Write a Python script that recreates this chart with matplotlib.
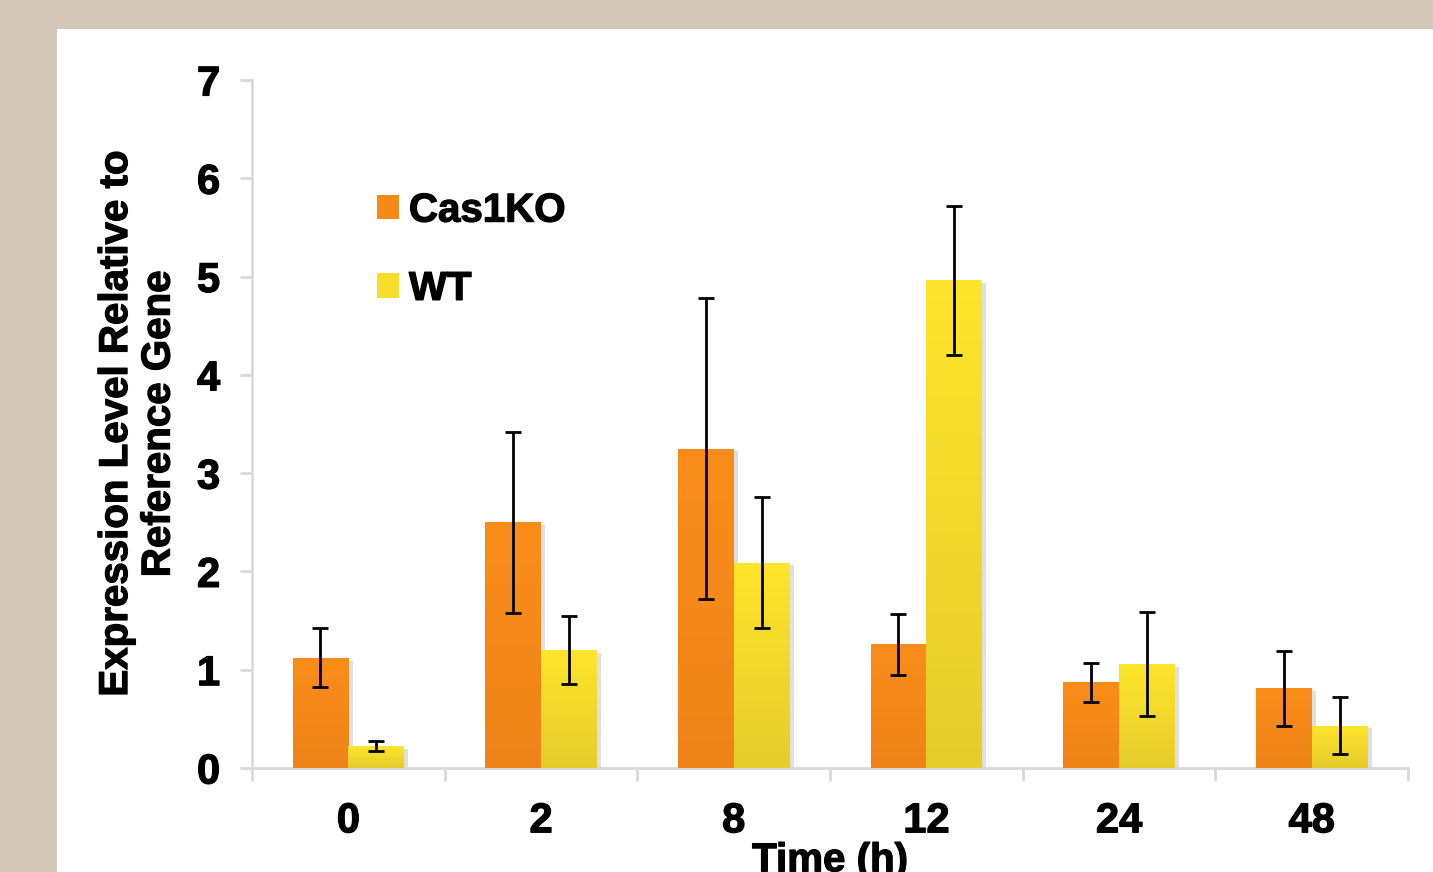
import numpy as np
import matplotlib.pyplot as plt
from matplotlib.patches import Rectangle, Patch
import matplotlib.patheffects as pe

# data
times = ["0", "2", "8", "12", "24", "48"]
cas1ko = [1.12, 2.50, 3.25, 1.26, 0.87, 0.81]
cas1ko_err = [0.30, 0.92, 1.53, 0.31, 0.20, 0.38]
wt = [0.22, 1.20, 2.09, 4.96, 1.06, 0.43]
wt_err = [0.05, 0.35, 0.67, 0.76, 0.53, 0.29]

plt.rcParams["font.family"] = ["Liberation Sans", "DejaVu Sans"]
plt.rcParams["font.weight"] = "bold"

# slightly heavier text, like the original slide
heavy = [pe.withStroke(linewidth=0.9, foreground="black")]

fig = plt.figure(figsize=(14.33, 8.72), dpi=100, facecolor="#d4c8b9")
# white slide panel
fig.patches.append(Rectangle((0.0398, 0), 1.0, 0.9667, transform=fig.transFigure,
                             facecolor="white", edgecolor="none", zorder=-5))

ax = fig.add_axes([0.1759, 0.1193, 0.8067, 0.789])
ax.set_zorder(2)
ax.set_facecolor("none")

x = np.arange(len(times))
w = 0.29


def gradient_bars(xs, heights, top, bottom):
    bars = ax.bar(xs, heights, w, color=top, zorder=2, linewidth=0,
                  path_effects=[pe.SimplePatchShadow(offset=(3, -2), shadow_rgbFace="#999999",
                                                     alpha=0.3), pe.Normal()])
    grad = np.linspace(0, 1, 256).reshape(-1, 1)
    cmap = plt.matplotlib.colors.LinearSegmentedColormap.from_list("g", [bottom, top])
    for b in bars:
        x0, y0 = b.get_x(), b.get_y()
        im = ax.imshow(grad, extent=[x0, x0 + b.get_width(), y0, y0 + b.get_height()],
                       origin="lower", cmap=cmap, aspect="auto", zorder=3)
        im.set_clip_path(b)
    return bars


gradient_bars(x - w / 2, cas1ko, "#fa8d1a", "#ee8418")
gradient_bars(x + w / 2, wt, "#ffe52a", "#e6cc2c")

ax.errorbar(x - w / 2, cas1ko, yerr=cas1ko_err, fmt="none", ecolor="black",
            elinewidth=2, capsize=6, capthick=2, zorder=5)
ax.errorbar(x + w / 2, wt, yerr=wt_err, fmt="none", ecolor="black",
            elinewidth=2, capsize=6, capthick=2, zorder=5)

ax.set_xlim(-0.5, len(times) - 0.5)
ax.set_ylim(0, 7)

for s in ["top", "right"]:
    ax.spines[s].set_visible(False)
for s in ["left", "bottom"]:
    ax.spines[s].set_color("#d9d9d9")
    ax.spines[s].set_linewidth(2)

ax.set_yticks(range(0, 8))
ax.tick_params(axis="y", direction="out", length=9, width=2, color="#d9d9d9",
               labelsize=30, pad=14)
ax.set_xticks(np.arange(-0.5, len(times), 1.0))
ax.set_xticklabels([])
ax.set_xticks(x, minor=True)
ax.set_xticklabels(times, minor=True)
ax.tick_params(axis="x", which="major", direction="out", length=9, width=2, color="#d9d9d9")
ax.tick_params(axis="x", which="minor", length=0, labelsize=30, pad=24)
for t in ax.get_yticklabels() + ax.get_xticklabels(minor=True):
    t.set_fontweight("bold")
    t.set_path_effects(heavy)

ax.set_ylabel("Expression Level Relative to\nReference Gene", fontsize=29,
              fontweight="bold", labelpad=14, linespacing=1.15, path_effects=heavy)
ax.set_xlabel("Time (h)", fontsize=29, fontweight="bold", labelpad=0, path_effects=heavy)

handles = [Patch(facecolor="#f68a19", edgecolor="none", label="Cas1KO"),
           Patch(facecolor="#f8dc2a", edgecolor="none", label="WT")]
leg = ax.legend(handles=handles, loc="upper left", bbox_to_anchor=(0.246, 0.808),
                bbox_transform=fig.transFigure, frameon=False, fontsize=29,
                handlelength=0.55, handleheight=0.55, handletextpad=0.25,
                labelspacing=1.0, borderpad=0.1)
for t in leg.get_texts():
    t.set_fontweight("bold")
    t.set_path_effects(heavy)

fig.savefig("out.png", dpi=100, facecolor=fig.get_facecolor())
